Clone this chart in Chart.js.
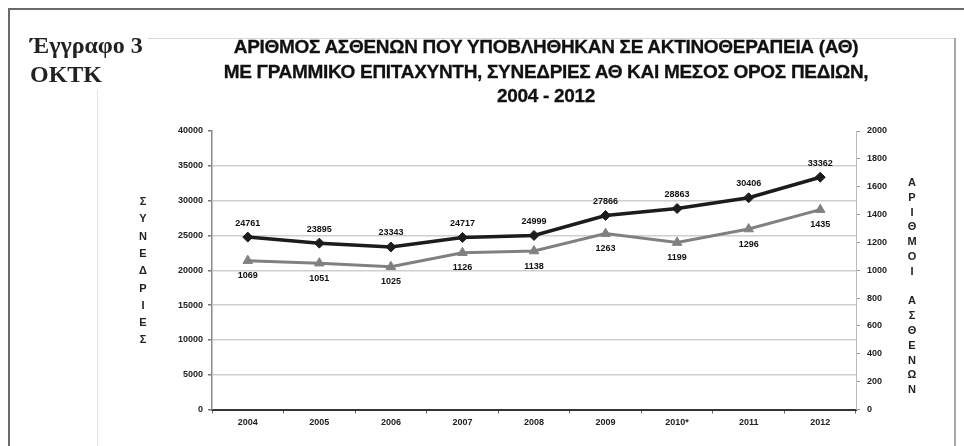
<!DOCTYPE html>
<html><head><meta charset="utf-8">
<script src="https://cdn.jsdelivr.net/npm/chart.js@4.4.1/dist/chart.umd.min.js"></script>
<style>
html,body{margin:0;padding:0;background:#fff;}
#wrap{position:relative;width:964px;height:446px;overflow:hidden;background:#fff;}
#c{position:absolute;left:0;top:0;width:964px;height:446px;}
.ln{position:absolute;}
.doc{position:absolute;left:30px;font-family:"Liberation Serif",serif;font-weight:bold;font-size:24px;line-height:28px;color:#222;white-space:nowrap;}
.ttl{position:absolute;left:546px;transform:translateX(-50%);font-family:"Liberation Sans",Arial,sans-serif;font-weight:bold;font-size:19px;line-height:22px;color:#111;white-space:nowrap;letter-spacing:-0.3px;-webkit-text-stroke:0.3px #111;}
</style></head><body>
<div id="wrap">
<canvas id="c" width="964" height="446"></canvas>
<div class="ln" style="left:9px;top:8px;width:960px;height:2px;background:#6a6a6a"></div>
<div class="ln" style="left:8px;top:8px;width:2px;height:440px;background:#6a6a6a"></div>
<div class="ln" style="left:148px;top:38px;width:808px;height:1px;background:#d8d8d8"></div>
<div class="ln" style="left:97px;top:90px;width:1px;height:360px;background:#e2e2e2"></div>
<div class="ln" style="left:954px;top:38px;width:2px;height:410px;background:#a8a8a8"></div>
<div class="doc" style="top:31px">Έγγραφο 3</div>
<div class="doc" style="top:60px">ΟΚΤΚ</div>
<div class="ttl" style="top:36px">ΑΡΙΘΜΟΣ ΑΣΘΕΝΩΝ ΠΟΥ ΥΠΟΒΛΗΘΗΚΑΝ ΣΕ ΑΚΤΙΝΟΘΕΡΑΠΕΙΑ (ΑΘ)</div>
<div class="ttl" style="top:61px">ΜΕ ΓΡΑΜΜΙΚΟ ΕΠΙΤΑΧΥΝΤΗ, ΣΥΝΕΔΡΙΕΣ ΑΘ ΚΑΙ ΜΕΣΟΣ ΟΡΟΣ ΠΕΔΙΩΝ,</div>
<div class="ttl" style="top:85px">2004 - 2012</div>
</div>
<script>
const years = ['2004','2005','2006','2007','2008','2009','2010*','2011','2012'];
const sessions = [24761, 23895, 23343, 24717, 24999, 27866, 28863, 30406, 33362];
const patients = [1069, 1051, 1025, 1126, 1138, 1263, 1199, 1296, 1435];
const leftTitle = 'ΣΥΝΕΔΡΙΕΣ';
const rightTitle = 'ΑΡΙΘΜΟΙ ΑΣΘΕΝΩΝ';

const tickFont = {family:'"Liberation Sans", Arial, sans-serif', size:9, weight:'bold'};

const labelPlugin = {
  id:'valueLabels',
  afterDatasetsDraw(chart){
    const ctx = chart.ctx;
    ctx.save();
    ctx.font = 'bold 9px "Liberation Sans", Arial, sans-serif';
    ctx.fillStyle = '#111';
    ctx.textAlign = 'center';
    ctx.textBaseline = 'middle';
    chart.data.datasets.forEach((ds, i) => {
      const meta = chart.getDatasetMeta(i);
      const off = i === 0 ? -14 : 15;
      meta.data.forEach((p, j) => {
        ctx.fillText(String(ds.data[j]), p.x, p.y + off);
      });
    });
    ctx.restore();
  }
};

const axisTitlePlugin = {
  id:'stackedTitles',
  afterDraw(chart){
    const ctx = chart.ctx;
    ctx.save();
    ctx.font = 'bold 11px "Liberation Sans", Arial, sans-serif';
    ctx.fillStyle = '#222';
    ctx.textAlign = 'center';
    ctx.textBaseline = 'middle';
    const drawStack = (txt, x, yStart, step) => {
      [...txt].forEach((ch, k) => { if (ch !== ' ') ctx.fillText(ch, x, yStart + k*step); });
    };
    drawStack(leftTitle, 143, 202, 17.3);
    drawStack(rightTitle, 912, 183, 14.8);
    ctx.restore();
  }
};

new Chart(document.getElementById('c'), {
  type:'line',
  data:{
    labels: years,
    datasets:[
      {label:'Συνεδρίες', data:sessions, yAxisID:'y', borderColor:'#1c1c1c', backgroundColor:'#1c1c1c',
       borderWidth:3.5, pointStyle:'rectRot', pointRadius:5, pointBorderWidth:1, tension:0},
      {label:'Ασθενείς', data:patients, yAxisID:'y2', borderColor:'#808080', backgroundColor:'#808080',
       borderWidth:3, pointStyle:'triangle', pointRadius:5.5, pointBorderWidth:1, tension:0}
    ]
  },
  options:{
    responsive:false,
    animation:false,
    layout:{padding:{top:131, left:0, right:0, bottom:0}},
    plugins:{legend:{display:false}, title:{display:false}, tooltip:{enabled:false}},
    scales:{
      x:{
        offset:true,
        grid:{display:true, drawOnChartArea:false, drawTicks:true, tickLength:4, offset:true, color:'#666'},
        border:{color:'#333', width:2},
        ticks:{font:tickFont, color:'#222', padding:4, maxRotation:0, autoSkip:false},
        afterFit(s){ s.height = 36.5; }
      },
      y:{
        position:'left', min:0, max:40000,
        ticks:{stepSize:5000, font:tickFont, color:'#222', padding:5, callback:(v)=>String(v)},
        grid:{color:(c)=> (c.tick && (c.tick.value === 40000 || c.tick.value === 0)) ? 'rgba(0,0,0,0)' : '#cfcfcf', lineWidth:1.5, tickLength:4, tickColor:'#777'},
        border:{color:'#8a8a8a', width:1.5},
        afterFit(s){ s.width = 212; }
      },
      y2:{
        position:'right', min:0, max:2000,
        ticks:{stepSize:200, font:tickFont, color:'#222', padding:7, callback:(v)=>String(v)},
        grid:{drawOnChartArea:false, tickLength:4, tickColor:'#999'},
        border:{color:'#bbbbbb', width:1},
        afterFit(s){ s.width = 108; }
      }
    }
  },
  plugins:[labelPlugin, axisTitlePlugin]
});
</script>
</body></html>
